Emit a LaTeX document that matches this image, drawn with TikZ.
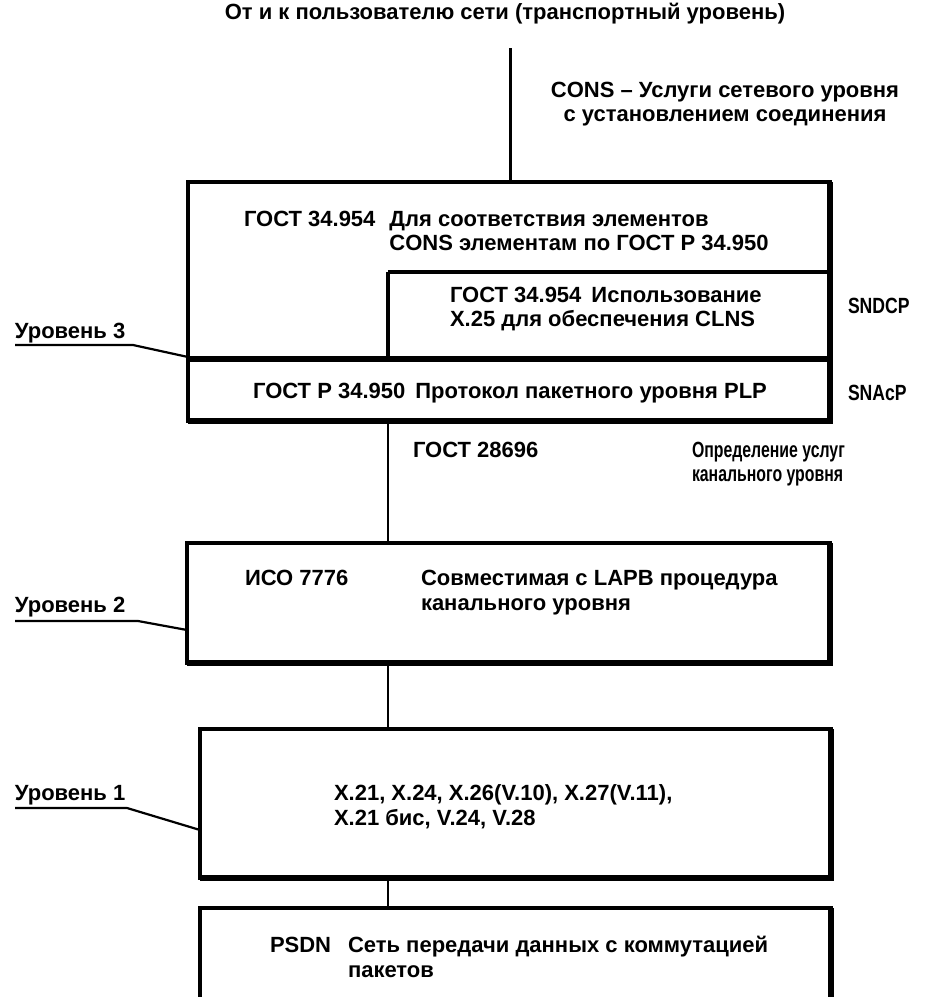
\documentclass[tikz,border=0pt]{standalone}
\usepackage{fontspec}
\setmainfont{Liberation Sans}
\usetikzlibrary{calc}
\newcommand{\narrowtxt}[2]{\scalebox{#1}[1]{#2}}
\begin{document}
\begin{tikzpicture}[x=0.5pt,y=-0.5pt,
  txt/.style={inner sep=0pt, outer sep=0pt, font=\fontsize{11}{12.5}\selectfont\bfseries},
  boxframe/.style={draw, line width=1.7pt, inner sep=0pt, outer sep=0pt},
  heavy/.style={line width=2.6pt},
  inner line/.style={line width=1.8pt},
  conn/.style={line width=1.2pt},
  lead/.style={line width=1.1pt},
]
\clip (0,0) rectangle (928,997);
% boxes
\node[boxframe, minimum width=321pt, minimum height=119.5pt] (b1) at (509,301.5) {};
\node[boxframe, minimum width=321.5pt, minimum height=60pt] (b2) at (508.5,603) {};
\node[boxframe, minimum width=315.5pt, minimum height=74.5pt] (b3) at (515.5,803.5) {};
\node[boxframe, minimum width=315.5pt, minimum height=52pt] (b4) at (515.5,960) {};
% heavier right and bottom edges
\draw[heavy] (b1.north east) -- (b1.south east) -- (b1.south west);
\draw[heavy] (b2.north east) -- (b2.south east) -- (b2.south west);
\draw[heavy] (b3.north east) -- (b3.south east) -- (b3.south west);
\draw[heavy] (b4.north east) -- (b4.south east);
% inner partition of box 1
\coordinate (ic) at (388,272);
\coordinate (sep) at (0,359);
\draw[inner line] (ic) -- (ic -| b1.east);
\draw[inner line] (ic) -- (ic |- sep);
\draw[heavy] (b1.west |- sep) -- (b1.east |- sep);
% connectors
\coordinate (topend) at (510,48);
\draw[line width=1.5pt] (topend) -- (topend |- b1.north);
\coordinate (cx) at (388,0);
\draw[conn] (b1.south -| cx) -- (b2.north -| cx);
\draw[conn] (b2.south -| cx) -- (b3.north -| cx);
\draw[conn] (b3.south -| cx) -- (b4.north -| cx);
% level labels
\node[txt, anchor=base west] (l3) at (15,338) {Уровень 3};
\coordinate (l3a) at (15,345); \coordinate (l3b) at (133,345); \coordinate (l3c) at (0,357);
\draw[lead] (l3a) -- (l3b) -- (b1.west |- l3c);
\node[txt, anchor=base west] (l2) at (15,612) {Уровень 2};
\coordinate (l2a) at (15,621); \coordinate (l2b) at (138,621); \coordinate (l2c) at (0,630);
\draw[lead] (l2a) -- (l2b) -- (b2.west |- l2c);
\node[txt, anchor=base west] (l1) at (15,800) {Уровень 1};
\coordinate (l1a) at (15,808); \coordinate (l1b) at (127,808); \coordinate (l1c) at (0,830);
\draw[lead] (l1a) -- (l1b) -- (b3.west |- l1c);
% top texts
\node[txt, anchor=base] (toptxt) at (505,19) {От и к пользователю сети (транспортный уровень)};
\node[txt, anchor=base] (cons1) at (725,97) {CONS – Услуги сетевого уровня};
\node[txt, anchor=base] (cons2) at (725,121) {с установлением соединения};
% box 1 texts
\node[txt, anchor=base west] (c1) at (244,226) {ГОСТ 34.954};
\node[txt, anchor=base west] (d1) at ($(c1.base east)+(14,0)$) {Для соответствия элементов};
\node[txt, anchor=base west] (d2) at ($(d1.base west)+(0,24)$) {CONS элементам по ГОСТ Р 34.950};
\node[txt, anchor=base west] (n1) at (450,302) {ГОСТ 34.954\hspace{5pt}Использование};
\node[txt, anchor=base west] (n2) at (450,326) {X.25 для обеспечения CLNS};
\node[txt, anchor=base west] (sndcp) at (848,313) {\narrowtxt{0.8}{SNDCP}};
\node[txt, anchor=base west] (snacp) at (848,400) {\narrowtxt{0.8}{SNAcP}};
\node[txt, anchor=base] (plp) at (510,398) {ГОСТ Р 34.950\hspace{5pt}Протокол пакетного уровня PLP};
% between 1 and 2
\node[txt, anchor=base west] (g28) at (413,457) {ГОСТ 28696};
\node[txt, anchor=base west] (def1) at (692,457) {\narrowtxt{0.72}{Определение услуг}};
\node[txt, anchor=base west] (def2) at (692,481) {\narrowtxt{0.72}{канального уровня}};
% box 2
\node[txt, anchor=base west] (iso) at (245,585) {ИСО 7776};
\node[txt, anchor=base west] (lapb1) at (421,585) {Совместимая с LAPB процедура};
\node[txt, anchor=base west] (lapb2) at (421,610) {канального уровня};
% box 3
\node[txt, anchor=base west] (x1) at (334,800) {X.21, X.24, X.26(V.10), X.27(V.11),};
\node[txt, anchor=base west] (x2) at (334,825) {X.21 бис, V.24, V.28};
% box 4
\node[txt, anchor=base west] (psdn) at (270,952) {PSDN};
\node[txt, anchor=base west] (net1) at (348,952) {Сеть передачи данных с коммутацией};
\node[txt, anchor=base west] (net2) at (348,977) {пакетов};
\end{tikzpicture}
\end{document}
